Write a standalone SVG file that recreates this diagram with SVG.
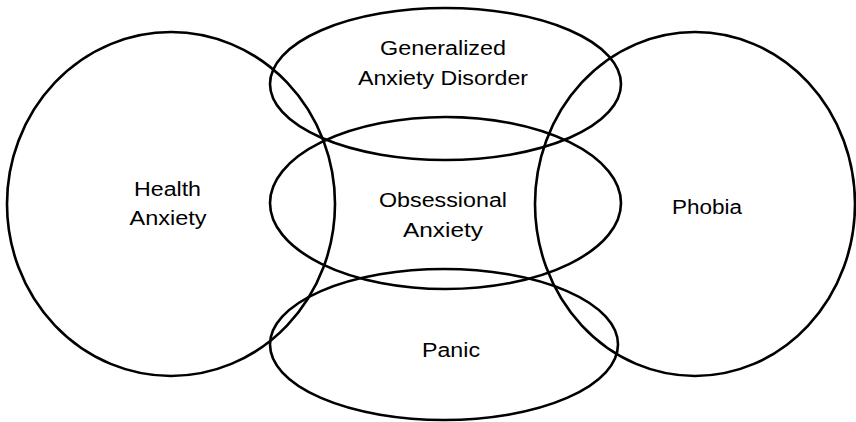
<svg xmlns="http://www.w3.org/2000/svg" width="856" height="422" viewBox="0 0 856 422">
<style>
.s{fill:none;stroke:#000;stroke-width:2.6}
.t{font-family:"Liberation Sans",Arial,sans-serif;font-size:20px;fill:#000;text-anchor:middle}
</style>
<rect width="856" height="422" fill="#fff"/>
<g id="health"><ellipse class="s" cx="171" cy="204" rx="164" ry="172"/>
<text class="t" x="167.5" y="196" textLength="67" lengthAdjust="spacingAndGlyphs">Health</text>
<text class="t" x="168" y="225" textLength="77" lengthAdjust="spacingAndGlyphs">Anxiety</text></g>
<g id="phobia"><ellipse class="s" cx="695" cy="204" rx="160" ry="172"/>
<text class="t" x="707" y="214" textLength="70" lengthAdjust="spacingAndGlyphs">Phobia</text></g>
<g id="gad"><ellipse class="s" cx="445.5" cy="84" rx="175.5" ry="76"/>
<text class="t" x="443" y="55" textLength="126" lengthAdjust="spacingAndGlyphs">Generalized</text>
<text class="t" x="443" y="85" textLength="170" lengthAdjust="spacingAndGlyphs">Anxiety Disorder</text></g>
<g id="obsessional"><ellipse class="s" cx="445.5" cy="203" rx="175.5" ry="86"/>
<text class="t" x="443" y="207" textLength="128" lengthAdjust="spacingAndGlyphs">Obsessional</text>
<text class="t" x="443" y="237" textLength="80" lengthAdjust="spacingAndGlyphs">Anxiety</text></g>
<g id="panic"><ellipse class="s" cx="444" cy="344.5" rx="174" ry="75.5"/>
<text class="t" x="451" y="357" textLength="58" lengthAdjust="spacingAndGlyphs">Panic</text></g>
<g id="connectors"></g>
</svg>
